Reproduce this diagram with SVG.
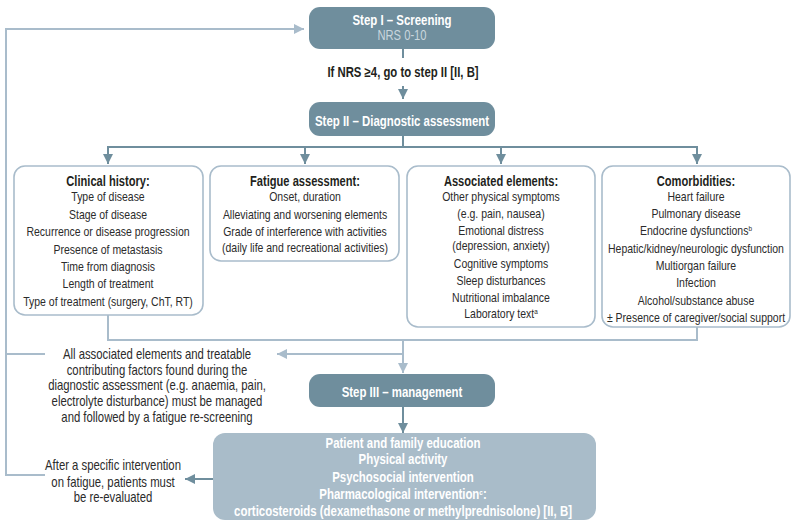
<svg xmlns="http://www.w3.org/2000/svg" width="792" height="522" viewBox="0 0 792 522">
  <style>
    text { font-family: "Liberation Sans", Arial, sans-serif; text-anchor: middle; }
    .step { fill: #6f8e9d; }
    .stepT { fill: #ffffff; font-size: 14.3px; font-weight: bold; }
    .sub { fill: #c9d6dd; font-size: 14px; }
    .box { fill: #ffffff; stroke: #a9bccb; stroke-width: 1.6; }
    .hd { fill: #231f20; font-size: 13.9px; font-weight: bold; }
    .cond { fill: #231f20; font-size: 14.2px; font-weight: bold; }
    .tx { fill: #2b2b2b; font-size: 13.1px; }
    .nt { fill: #2b2b2b; font-size: 14px; }
    .mg { fill: #a9bcc9; }
    .mgT { fill: #ffffff; font-size: 14.3px; font-weight: bold; }
    .dk { fill: none; stroke: #6f8e9d; stroke-width: 2; }
    .lt { fill: none; stroke: #a9bccb; stroke-width: 2; }
    .sup { font-size: 8px; }
  </style>
  <defs>
    <marker id="ahDark" markerUnits="userSpaceOnUse" markerWidth="12" markerHeight="12" refX="10" refY="5" orient="auto">
      <path d="M0,0 L10,5 L0,10 z" fill="#6f8e9d"/>
    </marker>
    <marker id="ahLight" markerUnits="userSpaceOnUse" markerWidth="12" markerHeight="12" refX="10" refY="5" orient="auto">
      <path d="M0,0 L10,5 L0,10 z" fill="#a9bccb"/>
    </marker>
  </defs>

  <!-- connectors -->
  <g id="connectors">
    <!-- re-screening loop on the left -->
    <path class="lt" d="M45,475 H6 V29 H304" marker-end="url(#ahLight)"/>
    <path class="lt" d="M6,354 H45"/>
    <!-- step I to step II -->
    <path class="dk" d="M403,49 V58"/>
    <path class="dk" d="M403,86 V99" marker-end="url(#ahDark)"/>
    <!-- step II fan-out -->
    <path class="dk" d="M403,136 V147 M108,147 H697"/>
    <path class="dk" d="M108,146 V164" marker-end="url(#ahDark)"/>
    <path class="dk" d="M305,146 V164" marker-end="url(#ahDark)"/>
    <path class="dk" d="M501,146 V164" marker-end="url(#ahDark)"/>
    <path class="dk" d="M697,146 V164" marker-end="url(#ahDark)"/>
    <!-- assessment results merge -->
    <path class="lt" d="M108,315 V340 H697 V327"/>
    <path class="lt" d="M403,339 V373" marker-end="url(#ahLight)"/>
    <path class="lt" d="M403,354 H277" marker-end="url(#ahLight)"/>
    <!-- step III to interventions -->
    <path class="dk" d="M403,407 V433" marker-end="url(#ahDark)"/>
    <path class="dk" d="M213,479 H185" marker-end="url(#ahDark)"/>
  </g>

  <!-- text in each group is set in a condensed face by scaling x around its centre line -->
  <g id="step1">
    <rect class="step" x="309" y="7" width="186" height="42" rx="11"/>
    <g transform="translate(402,0) scale(0.8,1)">
      <text class="stepT" x="0" y="25">Step I – Screening</text>
      <text class="sub" x="0" y="40.5">NRS 0-10</text>
    </g>
  </g>

  <g id="condition" transform="translate(403,0) scale(0.8,1)">
    <text class="cond" x="0" y="77">If NRS ≥4, go to step II [II, B]</text>
  </g>

  <g id="step2">
    <rect class="step" x="309" y="102" width="186" height="34" rx="11"/>
    <g transform="translate(402,0) scale(0.8,1)">
      <text class="stepT" x="0" y="126">Step II – Diagnostic assessment</text>
    </g>
  </g>

  <g id="clinical">
    <rect class="box" x="14" y="166" width="189" height="149" rx="11"/>
    <g transform="translate(108,0) scale(0.8,1)">
      <text class="hd" x="0" y="186.5">Clinical history:</text>
      <text class="tx" x="0" y="201.5">Type of disease</text>
      <text class="tx" x="0" y="219">Stage of disease</text>
      <text class="tx" x="0" y="236.5">Recurrence or disease progression</text>
      <text class="tx" x="0" y="254">Presence of metastasis</text>
      <text class="tx" x="0" y="271">Time from diagnosis</text>
      <text class="tx" x="0" y="288">Length of treatment</text>
      <text class="tx" x="0" y="306">Type of treatment (surgery, ChT, RT)</text>
    </g>
  </g>

  <g id="fatigue">
    <rect class="box" x="210" y="166" width="189" height="95" rx="11"/>
    <g transform="translate(305,0) scale(0.8,1)">
      <text class="hd" x="0" y="186.5">Fatigue assessment:</text>
      <text class="tx" x="0" y="201.5">Onset, duration</text>
      <text class="tx" x="0" y="219">Alleviating and worsening elements</text>
      <text class="tx" x="0" y="236.5">Grade of interference with activities</text>
      <text class="tx" x="0" y="252">(daily life and recreational activities)</text>
    </g>
  </g>

  <g id="associated">
    <rect class="box" x="407" y="166" width="188" height="161" rx="11"/>
    <g transform="translate(501,0) scale(0.8,1)">
      <text class="hd" x="0" y="186.5">Associated elements:</text>
      <text class="tx" x="0" y="201.5">Other physical symptoms</text>
      <text class="tx" x="0" y="218.5">(e.g. pain, nausea)</text>
      <text class="tx" x="0" y="235.5">Emotional distress</text>
      <text class="tx" x="0" y="250.5">(depression, anxiety)</text>
      <text class="tx" x="0" y="268">Cognitive symptoms</text>
      <text class="tx" x="0" y="285">Sleep disturbances</text>
      <text class="tx" x="0" y="302.5">Nutritional imbalance</text>
      <text class="tx" x="0" y="318.5">Laboratory text<tspan class="sup" dy="-4">a</tspan></text>
    </g>
  </g>

  <g id="comorbidities">
    <rect class="box" x="602" y="166" width="188" height="161" rx="11"/>
    <g transform="translate(696,0) scale(0.8,1)">
      <text class="hd" x="0" y="186.5">Comorbidities:</text>
      <text class="tx" x="0" y="201.5">Heart failure</text>
      <text class="tx" x="0" y="218.5">Pulmonary disease</text>
      <text class="tx" x="0" y="235.5">Endocrine dysfunctions<tspan class="sup" dy="-4">b</tspan></text>
      <text class="tx" x="0" y="253">Hepatic/kidney/neurologic dysfunction</text>
      <text class="tx" x="0" y="270.5">Multiorgan failure</text>
      <text class="tx" x="0" y="287.5">Infection</text>
      <text class="tx" x="0" y="305">Alcohol/substance abuse</text>
      <text class="tx" x="0" y="322">± Presence of caregiver/social support</text>
    </g>
  </g>

  <g id="rescreen-note" transform="translate(157,0) scale(0.81,1)">
    <text class="nt" x="0" y="359">All associated elements and treatable</text>
    <text class="nt" x="0" y="375">contributing factors found during the</text>
    <text class="nt" x="0" y="390.5">diagnostic assessment (e.g. anaemia, pain,</text>
    <text class="nt" x="0" y="406.5">electrolyte disturbance) must be managed</text>
    <text class="nt" x="0" y="422">and followed by a fatigue re-screening</text>
  </g>

  <g id="step3">
    <rect class="step" x="309" y="374" width="186" height="33" rx="11"/>
    <g transform="translate(402,0) scale(0.8,1)">
      <text class="stepT" x="0" y="397">Step III – management</text>
    </g>
  </g>

  <g id="interventions">
    <rect class="mg" x="213" y="433" width="383" height="87" rx="12"/>
    <g transform="translate(403,0) scale(0.8,1)">
      <text class="mgT" x="0" y="448">Patient and family education</text>
      <text class="mgT" x="0" y="464.5">Physical activity</text>
      <text class="mgT" x="0" y="482">Psychosocial intervention</text>
      <text class="mgT" x="0" y="499">Pharmacological intervention<tspan class="sup" dy="-4">c</tspan><tspan dy="4">:</tspan></text>
      <text class="mgT" x="0" y="516">corticosteroids (dexamethasone or methylprednisolone) [II, B]</text>
    </g>
  </g>

  <g id="reevaluate-note" transform="translate(113,0) scale(0.81,1)">
    <text class="nt" x="0" y="470">After a specific intervention</text>
    <text class="nt" x="0" y="487">on fatigue, patients must</text>
    <text class="nt" x="0" y="502.5">be re-evaluated</text>
  </g>
</svg>
